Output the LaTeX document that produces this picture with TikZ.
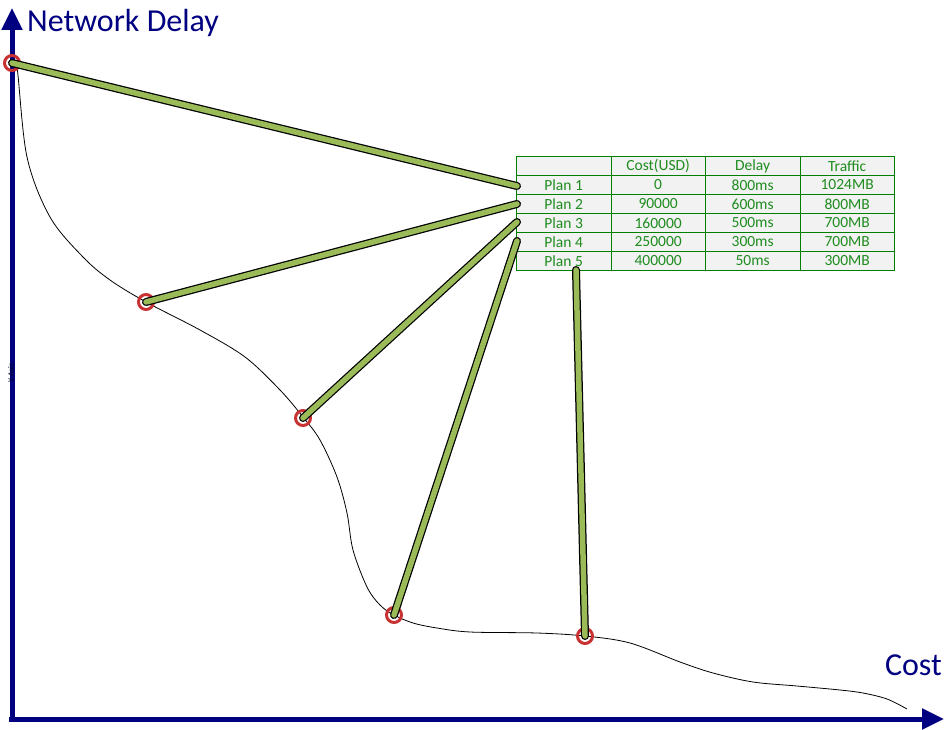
\documentclass[tikz,border=0pt]{standalone}
\usepackage{fontspec}
\setmainfont{Carlito}
\usetikzlibrary{arrows.meta}
\definecolor{axisblue}{RGB}{0,0,128}
\definecolor{tgreen}{RGB}{30,140,30}
\definecolor{tborder}{RGB}{0,128,0}
\definecolor{tfill}{RGB}{242,242,242}
\definecolor{lgreen}{RGB}{155,187,89}
\definecolor{cred}{RGB}{200,50,50}
\tikzset{
  axis/.style={draw=axisblue,line width=5pt,-{Triangle[length=22pt,width=20pt]}},
  cell/.style={draw=tborder,fill=tfill,line width=0.8pt,minimum width=94.5pt,minimum height=19pt,inner sep=0pt,text=tgreen,font=\fontsize{15.5}{15.5}\selectfont,anchor=north west},
  pt/.style={circle,draw=cred,line width=3pt,minimum size=15pt,inner sep=0pt,fill=none},
  linkout/.style={draw=black,line width=8pt,line cap=round},
  linkin/.style={draw=lgreen,line width=5.5pt,line cap=round},
  bigtxt/.style={text=axisblue,font=\fontsize{32}{32}\selectfont,inner sep=0pt}
}
\begin{document}
\begin{tikzpicture}[x=1pt,y=-1pt]
\useasboundingbox (0,0) rectangle (944,730);
% curve
\draw[black,line width=0.8pt] plot[smooth,tension=0.55] coordinates {
 (12,63) (17,67) (27,157) (50,217) (83,257) (110,280) (146,302)
 (200,330) (245,357) (280,390) (303,417) (320,440) (337,477) (347,513) (353,550)
 (367,587) (380,605) (394,615) (413,623) (437,628) (470,632) (537,633) (585,636)
 (630,643) (680,662) (713,673) (753,682) (797,686) (840,690) (863,693) (887,699) (907,709)};
% axes
\coordinate (ytop) at (12,8);
\coordinate (xend) at (944,719);
\draw[axis] (12,722) -- (ytop);
\draw[axis] (9,719) -- (xend);
\node[bigtxt,anchor=west] (ylab) at (27,23) {Network Delay};
\node[bigtxt,anchor=east] (xlab) at (942,665) {Cost};
\node[rotate=90,font=\fontsize{8}{8}\selectfont,text=black!70!axisblue,inner sep=0pt] (yax) at (11,373) {Y-Axis};
% table
\foreach \r/\a/\b/\c [count=\i from 0] in {{}/Cost(USD)/Delay/Traffic, Plan 1/0/800ms/1024MB, Plan 2/90000/600ms/800MB, Plan 3/160000/500ms/700MB, Plan 4/250000/300ms/700MB, Plan 5/400000/50ms/300MB}{
  \node[cell] (c\i a) at (516,156+19*\i) {\r};
  \node[cell] (c\i b) at (610.5,156+19*\i) {\a};
  \node[cell] (c\i c) at (705,156+19*\i) {\b};
  \node[cell] (c\i d) at (799.5,156+19*\i) {\c};
}
% points
\node[pt] (p1) at (12,63) {};
\node[pt] (p2) at (146,302) {};
\node[pt] (p3) at (303,418) {};
\node[pt] (p4) at (394,615) {};
\node[pt] (p5) at (585,636) {};
\coordinate (t1) at (517,186);
\coordinate (t2) at (517,204);
\coordinate (t3) at (517,222);
\coordinate (t4) at (517,241);
\coordinate (t5) at (576,270);
\foreach \i in {1,...,5}{
  \draw[linkout] (p\i.center) -- (t\i);
}
\foreach \i in {1,...,5}{
  \draw[linkin] (p\i.center) -- (t\i);
}
\end{tikzpicture}
\end{document}
